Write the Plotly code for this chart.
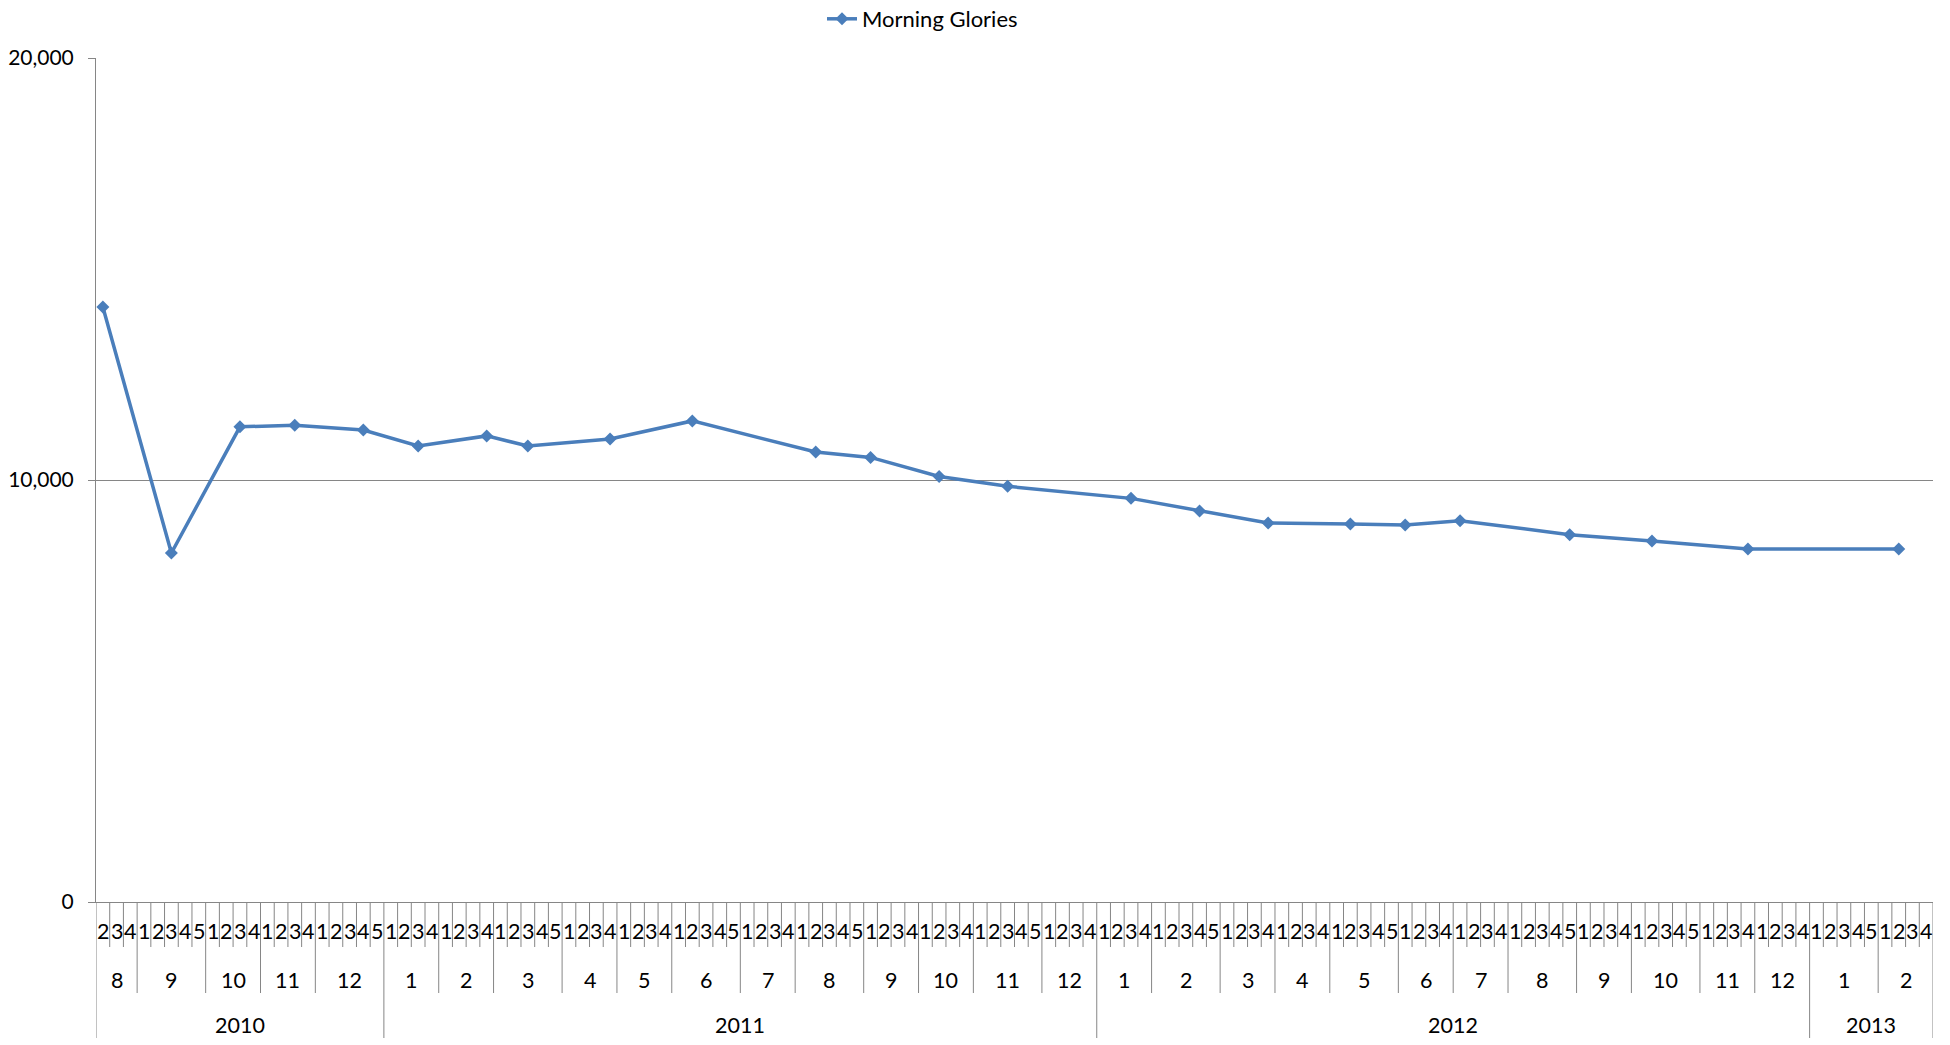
import plotly.graph_objects as go

# ---------------- data ----------------
# category hierarchy: year -> month -> week
month_year = [2010] * 5 + [2011] * 12 + [2012] * 12 + [2013] * 2
month_number = [8, 9, 10, 11, 12,
                1, 2, 3, 4, 5, 6, 7, 8, 9, 10, 11, 12,
                1, 2, 3, 4, 5, 6, 7, 8, 9, 10, 11, 12,
                1, 2]
month_first_week = [2] + [1] * 30
month_last_week = [4, 5, 4, 4, 5,
                   4, 4, 5, 4, 4, 5, 4, 5, 4, 4, 5, 4,
                   4, 5, 4, 4, 5, 4, 4, 5, 4, 5, 4, 4,
                   5, 4]

# series "Morning Glories"
series_name = "Morning Glories"
point_year = [2010, 2010, 2010, 2010, 2010,
              2011, 2011, 2011, 2011, 2011, 2011, 2011, 2011, 2011,
              2012, 2012, 2012, 2012, 2012, 2012, 2012, 2012, 2012,
              2013]
point_month = [8, 9, 10, 11, 12,
               1, 2, 3, 4, 6, 8, 9, 10, 11,
               1, 2, 3, 5, 6, 7, 8, 10, 11,
               2]
point_week = [2, 3, 3, 3, 4,
              3, 4, 3, 4, 2, 2, 1, 2, 3,
              3, 4, 4, 2, 1, 1, 5, 2, 4,
              2]
point_value = [14100, 8270, 11260, 11300, 11185,
               10805, 11045, 10805, 10970, 11400, 10665, 10535, 10085, 9850,
               9565, 9265, 8980, 8955, 8935, 9035, 8705, 8555, 8365,
               8365]

y_ticks = [0, 10000, 20000]

# ---------------- build categories ----------------
cat_year, cat_month, cat_week = [], [], []
for y, m, w0, w1 in zip(month_year, month_number, month_first_week, month_last_week):
    for w in range(w0, w1 + 1):
        cat_year.append(y)
        cat_month.append(m)
        cat_week.append(w)
n_cat = len(cat_week)
cat_index = {(y, m, w): i for i, (y, m, w) in enumerate(zip(cat_year, cat_month, cat_week))}

px_vals = [cat_index[(y, m, w)] for y, m, w in zip(point_year, point_month, point_week)]

# ---------------- figure ----------------
W, H = 1950, 1045
ML, MR, MT, MB = 96, 17, 58, 143
plot_h = H - MT - MB

def py(pix):
    """pixel y (from top) -> paper y"""
    return (H - MB - pix) / plot_h

FONT = "Lato, 'Open Sans', sans-serif"
GRID = "#868686"
BLUE = "#4A7EBB"
FS = 21.5

fig = go.Figure()
fig.add_trace(go.Scatter(
    x=px_vals, y=point_value, name=series_name,
    mode="lines+markers",
    line=dict(color=BLUE, width=3.5),
    marker=dict(symbol="diamond", size=10, color=BLUE),
    showlegend=True,
))

annotations = []
shapes = []

# week labels
for i, w in enumerate(cat_week):
    annotations.append(dict(x=i, y=py(931), xref="x", yref="paper", text=str(w),
                            showarrow=False, xanchor="center", yanchor="middle",
                            font=dict(size=FS, color="#000", family=FONT)))

# month groups
start = 0
for k in range(1, n_cat + 1):
    if k == n_cat or (cat_year[k], cat_month[k]) != (cat_year[start], cat_month[start]):
        annotations.append(dict(x=(start + k - 1) / 2, y=py(980), xref="x", yref="paper",
                                text=str(cat_month[start]), showarrow=False,
                                xanchor="center", yanchor="middle",
                                font=dict(size=FS, color="#000", family=FONT)))
        start = k

# year groups
start = 0
for k in range(1, n_cat + 1):
    if k == n_cat or cat_year[k] != cat_year[start]:
        annotations.append(dict(x=(start + k - 1) / 2, y=py(1025), xref="x", yref="paper",
                                text=str(cat_year[start]), showarrow=False,
                                xanchor="center", yanchor="middle",
                                font=dict(size=FS, color="#000", family=FONT)))
        start = k

# separators
for k in range(0, n_cat + 1):
    if k == 0 or k == n_cat or cat_year[k] != cat_year[k - 1]:
        bottom = 1038
    elif cat_month[k] != cat_month[k - 1]:
        bottom = 993
    else:
        bottom = 947
    shapes.append(dict(type="line", xref="x", yref="paper", x0=k - 0.5, x1=k - 0.5,
                       y0=0, y1=py(bottom), line=dict(color=GRID, width=1)))

fig.update_layout(
    width=W, height=H,
    margin=dict(l=ML, r=MR, t=MT, b=MB, pad=0, autoexpand=False),
    paper_bgcolor="white", plot_bgcolor="white",
    font=dict(family=FONT, color="#000", size=FS),
    showlegend=True,
    legend=dict(orientation="h", x=(822 - ML) / (W - ML - MR), xanchor="left",
                y=py(19), yanchor="middle", font=dict(size=22, color="#000", family=FONT),
                itemwidth=30, bgcolor="rgba(0,0,0,0)"),
    xaxis=dict(range=[-0.5, n_cat - 0.5], showgrid=False, zeroline=False,
               showline=True, linecolor=GRID, linewidth=1,
               showticklabels=False, ticks=""),
    yaxis=dict(range=[0, 20000], tickvals=y_ticks, tickformat=",",
               showgrid=True, gridcolor=GRID, gridwidth=1, zeroline=False,
               showline=True, linecolor=GRID, linewidth=1,
               ticks="outside", ticklen=7, tickcolor=GRID, ticklabelstandoff=10,
               tickfont=dict(size=21, color="#000", family=FONT)),
    annotations=annotations,
    shapes=shapes,
)

fig.write_html("out.html", config={"displayModeBar": False},
               post_script="document.body.style.margin='0';document.body.style.overflow='hidden';")
